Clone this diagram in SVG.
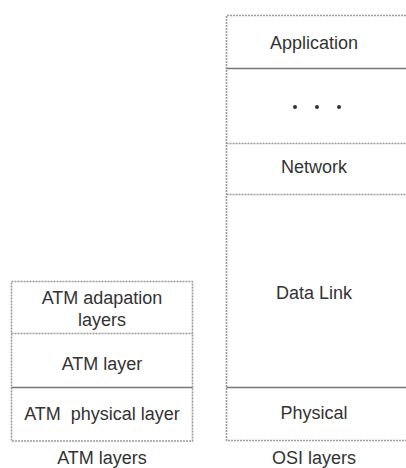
<svg xmlns="http://www.w3.org/2000/svg" width="406" height="468" viewBox="0 0 406 468">
<style>
.b{fill:none;stroke:#9a9a9a;stroke-width:1.6;stroke-dasharray:2 1}
.s{fill:none;stroke:#777;stroke-width:1.3}
.t{font-family:"Liberation Sans",Arial,sans-serif;font-size:18px;fill:#333;text-anchor:middle}
</style>
<rect width="406" height="468" fill="#fff"/>
<g id="connectors"></g>
<g id="atm">
<g id="atm-frame"><rect class="b" x="11.5" y="281.5" width="181" height="159.5"/></g>
<g id="atm-adaptation">
<text class="t" x="102" y="304">ATM adapation</text>
<text class="t" x="102" y="326">layers</text>
</g>
<line class="b" x1="11.5" y1="333.5" x2="192.5" y2="333.5"/>
<g id="atm-layer"><text class="t" x="102" y="370">ATM layer</text></g>
<line class="s" x1="11.5" y1="387.5" x2="192.5" y2="387.5"/>
<g id="atm-physical"><text class="t" x="102" y="420" xml:space="preserve">ATM  physical layer</text></g>
<g id="atm-label"><text class="t" x="102" y="464">ATM layers</text></g>
</g>
<g id="osi">
<path class="b" d="M406 15.5 H226.5 V440.5 H406"/>
<g id="osi-application"><text class="t" x="314" y="49">Application</text></g>
<line class="s" x1="226.5" y1="68.5" x2="406" y2="68.5"/>
<g id="osi-dots">
<circle cx="295" cy="107" r="2" fill="#333"/>
<circle cx="317" cy="107" r="2" fill="#333"/>
<circle cx="339" cy="107" r="2" fill="#333"/>
</g>
<line class="b" x1="226.5" y1="143.5" x2="406" y2="143.5"/>
<g id="osi-network"><text class="t" x="314" y="173">Network</text></g>
<line class="b" x1="226.5" y1="194.5" x2="406" y2="194.5"/>
<g id="osi-datalink"><text class="t" x="314" y="299">Data Link</text></g>
<line class="s" x1="226.5" y1="387.5" x2="406" y2="387.5"/>
<g id="osi-physical"><text class="t" x="314" y="419">Physical</text></g>
<g id="osi-label"><text class="t" x="314" y="464">OSI layers</text></g>
</g>
</svg>
